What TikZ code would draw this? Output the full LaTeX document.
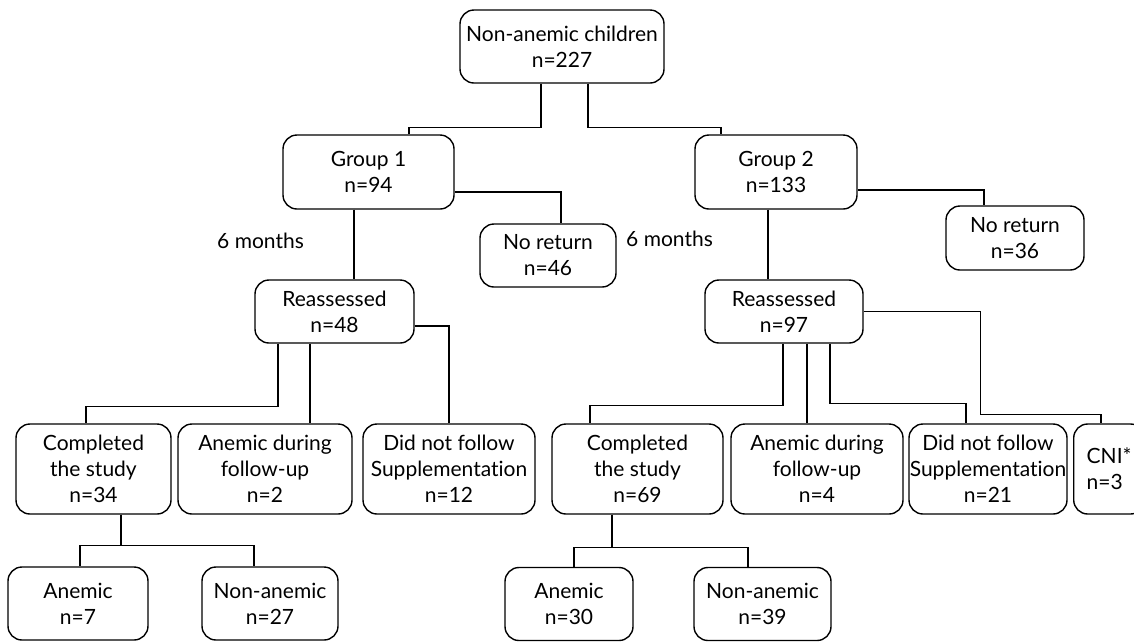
\documentclass[tikz,border=0pt]{standalone}
\usepackage{fontspec}
\setmainfont{Lato}[Ligatures=NoCommon]
\usetikzlibrary{positioning,calc}

\begin{document}
\begin{tikzpicture}[
  x=1pt, y=-1pt,
  font=\fontsize{21}{26}\selectfont,
  stage/.style={rounded corners=14pt, draw=black, line width=1.4pt,
                align=center, inner sep=0.5pt},
  link/.style={draw=black, line width=1.4pt},
  note/.style={anchor=base west, inner sep=0pt},
]

\useasboundingbox (0,0) rectangle (1134,641);
\clip (0,0) rectangle (1134,641);

\def\leafH{90pt}
\def\endH{73pt}

% ---------- top ----------
\node[stage, minimum width=204pt, minimum height=73pt] (root) at (562,46.5) {Non-anemic children\\n=227};
\node[stage, minimum width=171pt, minimum height=74pt] (g1) at (368.5,172) {Group 1\\n=94};
\node[stage, minimum width=162pt, minimum height=74pt] (g2) at (776,172) {Group 2\\n=133};

\draw[link] ([xshift=-21pt]root.south) -- ++(0,44) -| ([xshift=40.5pt]g1.north);
\draw[link] ([xshift=26pt]root.south) -- ++(0,44) -| ([xshift=-55pt]g2.north);

% ---------- Group 1 ----------
\node[stage, minimum width=136pt, minimum height=63pt] (nr1) at (548,255.5) {No return\\n=46};
\node[stage, minimum width=159pt, minimum height=63pt] (re1) at (334.5,311.5) {Reassessed\\n=48};
\node[note] (m1) at (217,248) {6 months};

\draw[link] ([yshift=-20pt]g1.east) -| ([xshift=13pt]nr1.north);
\draw[link] ([xshift=-14.5pt]g1.south) -- ([xshift=19.5pt]re1.north);

\node[stage, minimum width=155pt, minimum height=\leafH] (cs1) at (93.5,469) {Completed\\the study\\n=34};
\node[stage, minimum width=174pt, minimum height=\leafH] (ad1) at (265,469) {Anemic during\\follow-up\\n=2};
\node[stage, minimum width=172pt, minimum height=\leafH] (dn1) at (449,469) {Did not follow\\Supplementation\\n=12};

\draw[link] ([xshift=-56.5pt]re1.south) -- ++(0,63) -| ([xshift=-7.5pt]cs1.north);
\draw[link] ([xshift=-24.5pt]re1.south) -- ([xshift=45pt]ad1.north);
\draw[link] ([yshift=-14.5pt]re1.east) -| (dn1.north);

\node[stage, minimum width=140pt, minimum height=\endH] (an1) at (78,603.5) {Anemic\\n=7};
\node[stage, minimum width=136pt, minimum height=\endH] (na1) at (270,603.5) {Non-anemic\\n=27};

\draw[link] ([xshift=27.5pt]cs1.south) -- ++(0,31) -| ([xshift=2pt]an1.north);
\draw[link] ([xshift=27.5pt]cs1.south) -- ++(0,31) -| ([xshift=-16pt]na1.north);

% ---------- Group 2 ----------
\node[stage, minimum width=138pt, minimum height=64pt] (nr2) at (1015,238) {No return\\n=36};
\node[stage, minimum width=158pt, minimum height=63pt] (re2) at (784,311.5) {Reassessed\\n=97};
\node[note] (m2) at (626,246) {6 months};

\draw[link] ([yshift=-18pt]g2.east) -| ([xshift=-31pt]nr2.north);
\draw[link] ([xshift=-8pt]g2.south) -- ([xshift=-16pt]re2.north);

\node[stage, minimum width=171pt, minimum height=\leafH] (cs2) at (637.5,469) {Completed\\the study\\n=69};
\node[stage, minimum width=172pt, minimum height=\leafH] (ad2) at (817,469) {Anemic during\\follow-up\\n=4};
\node[stage, minimum width=158pt, minimum height=\leafH] (dn2) at (988,469) {Did not follow\\Supplementation\\n=21};
\node[stage, align=left, anchor=west, inner xsep=13pt, minimum height=\leafH] (cni) at (1073,469) {CNI*\\n=3};

\draw[link] ([xshift=-1pt]re2.south) -- ++(0,62) -| ([xshift=-47.5pt]cs2.north);
\draw[link] ([xshift=23pt]re2.south) -- ([xshift=-10pt]ad2.north);
\draw[link] ([xshift=46pt]re2.south) -- ++(0,60) -| ([xshift=-22pt]dn2.north);
\draw[link] (re2.east) -- ++(117,0) -- ++(0,103) -| ([xshift=-8pt]cni.north);

\node[stage, minimum width=128pt, minimum height=\endH] (an2) at (569,604) {Anemic\\n=30};
\node[stage, minimum width=137pt, minimum height=\endH] (na2) at (762.5,604) {Non-anemic\\n=39};

\draw[link] ([xshift=-25.5pt]cs2.south) -- ++(0,33) -| ([xshift=5pt]an2.north);
\draw[link] ([xshift=-25.5pt]cs2.south) -- ++(0,33) -| ([xshift=-14.5pt]na2.north);

\end{tikzpicture}
\end{document}
